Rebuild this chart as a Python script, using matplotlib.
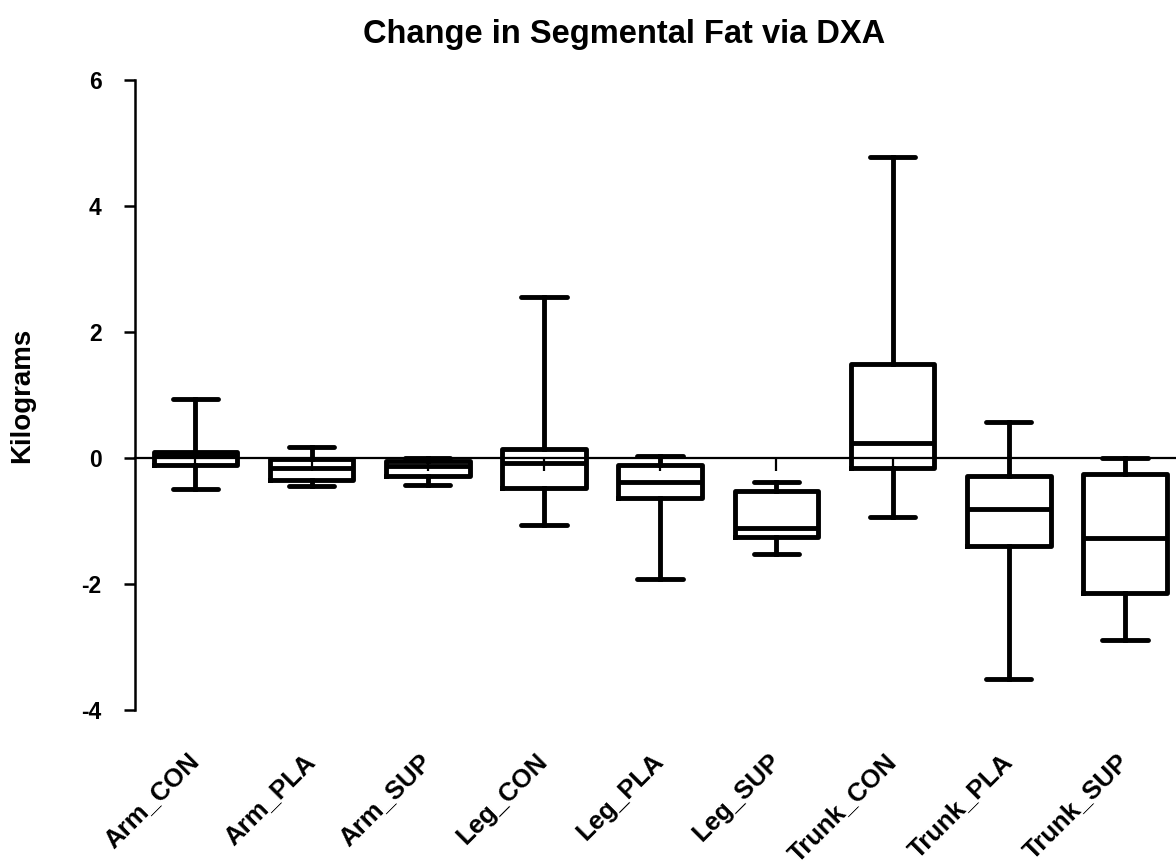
import matplotlib
matplotlib.use("Agg")
import matplotlib.pyplot as plt

plt.rcParams['font.family'] = ['Liberation Sans', 'DejaVu Sans']
plt.rcParams['font.weight'] = 'bold'

categories = ["Arm_CON", "Arm_PLA", "Arm_SUP", "Leg_CON", "Leg_PLA", "Leg_SUP",
              "Trunk_CON", "Trunk_PLA", "Trunk_SUP"]
whisker_low = [-0.49, -0.44, -0.43, -1.06, -1.92, -1.52, -0.94, -3.51, -2.89]
q1 =          [-0.11, -0.34, -0.28, -0.47, -0.64, -1.25, -0.15, -1.40, -2.14]
median =      [0.03, -0.15, -0.12, -0.08, -0.38, -1.11, 0.24, -0.81, -1.27]
q3 =          [0.09, -0.02, -0.04, 0.14, -0.11, -0.52, 1.49, -0.28, -0.25]
whisker_high = [0.94, 0.17, 0.00, 2.56, 0.03, -0.38, 4.78, 0.57, 0.00]
yticks = [-4, -2, 0, 2, 4, 6]

fig = plt.figure(figsize=(11.76, 8.65), dpi=100)
ax = fig.add_axes([0.1148, 0.179, 0.8852, 0.7285])

stats = []
for i, name in enumerate(categories):
    stats.append(dict(label=name, whislo=whisker_low[i], q1=q1[i], med=median[i],
                      q3=q3[i], whishi=whisker_high[i], fliers=[]))

lw = 3.5
pos = list(range(len(categories)))
ax.bxp(stats, positions=pos, widths=0.72, capwidths=0.39, showfliers=False,
       boxprops=dict(color='black', linewidth=lw),
       whiskerprops=dict(color='black', linewidth=lw),
       capprops=dict(color='black', linewidth=lw, solid_capstyle='round'),
       medianprops=dict(color='black', linewidth=lw),
       manage_ticks=False, zorder=2)

ax.set_xlim(-0.52, 8.44)
ax.set_ylim(-4, 6)
ax.set_yticks(yticks)
ax.set_yticklabels([str(t) for t in yticks], fontsize=16.5, fontweight='bold')
ax.tick_params(axis='y', direction='out', length=8, width=1.8, pad=16)

ax.spines['top'].set_visible(False)
ax.spines['right'].set_visible(False)
ax.spines['left'].set_linewidth(1.8)
ax.spines['bottom'].set_position(('data', 0))
ax.spines['bottom'].set_linewidth(1.6)
ax.spines['bottom'].set_zorder(3)
ax.set_xticks(pos)
ax.tick_params(axis='x', direction='out', length=9, width=1.6, labelbottom=False)

sec = ax.secondary_xaxis('bottom')
sec.set_xticks(pos)
sec.set_xticklabels(categories, rotation=45, ha='right', va='center',
                    rotation_mode='anchor', fontsize=18.5, fontweight='bold')
sec.tick_params(length=0, pad=34)
sec.spines['bottom'].set_visible(False)

ax.set_ylabel("Kilograms", fontsize=20, fontweight='bold', labelpad=33)

fig.text(0.531, 0.960, "Change in Segmental Fat via DXA", ha='center', va='center',
         fontsize=23.5, fontweight='bold')

fig.savefig("out.png", dpi=100)
